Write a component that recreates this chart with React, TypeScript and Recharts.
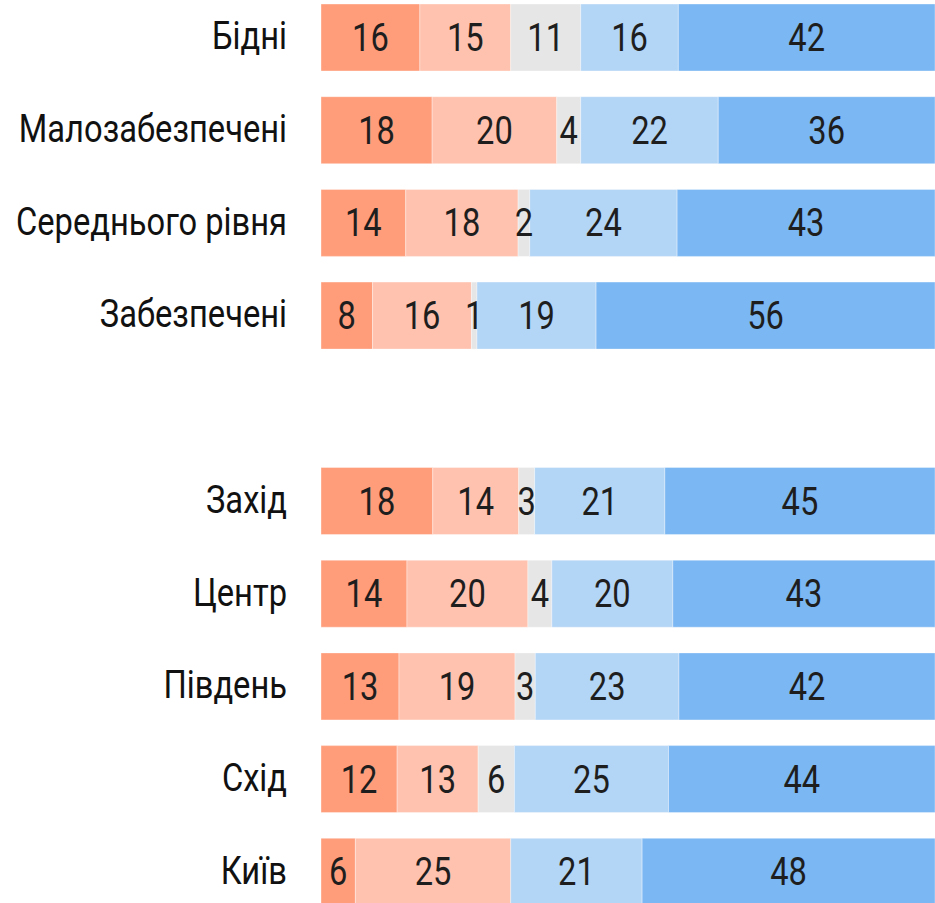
import React from "react";
import { BarChart, Bar, XAxis, YAxis, LabelList } from "recharts";

const categories = [
  "Бідні",
  "Малозабезпечені",
  "Середнього рівня",
  "Забезпечені",
  "",
  "Захід",
  "Центр",
  "Південь",
  "Схід",
  "Київ",
];

// Values (%); labels show the rounded value
const stronglyNeg = [16.1, 18.1, 13.8, 8.4, null, 18.2, 14.0, 12.7, 12.4, 5.6];
const ratherNeg = [14.8, 20.3, 18.3, 16.1, null, 14.0, 19.7, 18.9, 13.2, 25.3];
const neutral = [11.4, 3.9, 1.9, 0.9, null, 2.6, 3.9, 3.3, 5.9, 0];
const ratherPos = [15.9, 22.4, 24.0, 19.4, null, 21.2, 19.7, 23.4, 25.1, 21.4];
const stronglyPos = [42, 36, 43, 56, null, 45, 43, 42, 44, 48];

const seriesKeys = ["s1", "s2", "s3", "s4", "s5"];
const seriesColors = ["#FF9D7B", "#FFC2AF", "#E6E6E6", "#B3D5F6", "#7BB7F3"];
const seriesValues = [stronglyNeg, ratherNeg, neutral, ratherPos, stronglyPos];

const data = categories.map((name, i) => {
  const row: any = { name };
  seriesKeys.forEach((k, j) => {
    row[k] = seriesValues[j][i];
  });
  return row;
});

const FONT = "Roboto, 'Noto Sans', sans-serif";
const SX = 0.86;

const CategoryTick = (props: any) => {
  const { x, y, payload } = props;
  if (!payload.value) return null;
  return (
    <text
      transform={`translate(${x - 26},${y + 12}) scale(${SX},1)`}
      textAnchor="end"
      fontFamily={FONT}
      fontSize={38}
      fill="#111"
    >
      {payload.value}
    </text>
  );
};

const ValueLabel = (props: any) => {
  const { x, y, width, height, value } = props;
  if (value === null || value === undefined || value === 0) return null;
  return (
    <text
      transform={`translate(${x + width / 2},${y + height / 2 + 13.5}) scale(${SX},1)`}
      textAnchor="middle"
      fontFamily={FONT}
      fontSize={38}
      fill="#1e1e1e"
    >
      {Math.round(value)}
    </text>
  );
};

export default function App() {
  return (
    <div
      style={{
        position: "fixed",
        left: 0,
        top: 0,
        width: 935,
        height: 903,
        overflow: "hidden",
        background: "#fff",
      }}
    >
      <div style={{ marginTop: -9 }}>
        <BarChart
          width={935}
          height={927}
          data={data}
          layout="vertical"
          margin={{ top: 0, right: 0, bottom: 0, left: 0 }}
          barSize={67}
        >
          <XAxis type="number" domain={[0, 100]} allowDataOverflow hide />
          <YAxis
            type="category"
            dataKey="name"
            width={321}
            axisLine={false}
            tickLine={false}
            interval={0}
            tick={<CategoryTick />}
          />
          {seriesKeys.map((k, j) => (
            <Bar
              key={k}
              dataKey={k}
              stackId="a"
              fill={seriesColors[j]}
              stroke="rgba(255,255,255,0.35)"
              strokeWidth={1}
              isAnimationActive={false}
            >
              <LabelList dataKey={k} content={<ValueLabel />} />
            </Bar>
          ))}
        </BarChart>
      </div>
    </div>
  );
}
